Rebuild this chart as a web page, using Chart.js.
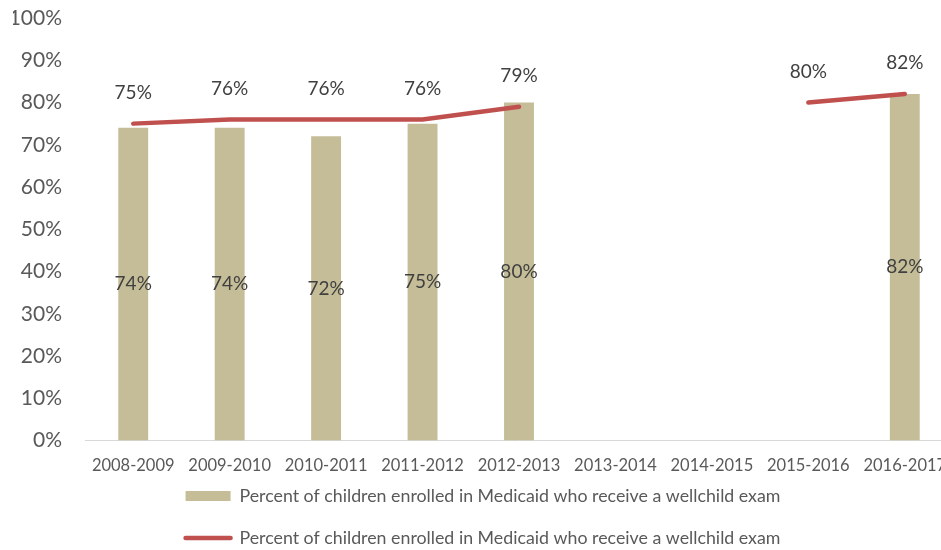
<!DOCTYPE html>
<html>
<head>
<meta charset="utf-8">
<script src="https://cdn.jsdelivr.net/npm/chart.js@4/dist/chart.umd.min.js"></script>
<style>
html,body{margin:0;padding:0;overflow:hidden;background:#fff;width:941px;height:550px;}
#wrap{width:955px;height:572px;margin-top:-15px;}
canvas{display:block;}
</style>
</head>
<body>
<div id="wrap"><canvas id="c" width="955" height="572"></canvas></div>
<script>
const categories = ["2008-2009","2009-2010","2010-2011","2011-2012","2012-2013","2013-2014","2014-2015","2015-2016","2016-2017"];
const barValues = [74,74,72,75,80,null,null,null,82];
const lineValues = [75,76,76,76,79,null,null,80,82];
const seriesName = "Percent of children enrolled in Medicaid who receive a wellchild exam";
const yTicks = [0,10,20,30,40,50,60,70,80,90,100];

const FONT = "Lato";
const barColor = "#C4BD97";
const lineColor = "#C0504D";

const labelPlugin = {
  id: 'valueLabels',
  afterLayout(chart) {
    // let x tick labels overflow their compact box
    chart.scales.x.bottom = chart.height;
  },
  afterDatasetsDraw(chart) {
    const ctx = chart.ctx;
    ctx.save();
    ctx.font = "19px " + FONT;
    ctx.fillStyle = "#404040";
    ctx.textAlign = "center";
    ctx.textBaseline = "middle";
    chart.data.datasets.forEach((ds, i) => {
      const meta = chart.getDatasetMeta(i);
      meta.data.forEach((el, j) => {
        const v = ds.data[j];
        if (v == null) return;
        let y;
        if (ds.type === 'bar') y = (el.y + el.base) / 2;
        else y = el.y - 31;
        ctx.fillText(v + "%", el.x, y);
      });
    });
    ctx.restore();
  }
};

new Chart(document.getElementById('c'), {
  data: {
    labels: categories,
    datasets: [
      {
        type: 'line',
        label: seriesName,
        data: lineValues,
        borderColor: lineColor,
        backgroundColor: lineColor,
        borderWidth: 4.5,
        borderCapStyle: 'round',
        pointRadius: 0,
        spanGaps: false,
        tension: 0,
        order: 0
      },
      {
        type: 'bar',
        label: seriesName,
        data: barValues,
        backgroundColor: barColor,
        borderWidth: 0,
        barPercentage: 0.62,
        categoryPercentage: 0.5,
        order: 1
      }
    ]
  },
  options: {
    responsive: false,
    animation: false,
    layout: { padding: { top: 33, right: 2, left: 13, bottom: 0 } },
    scales: {
      x: {
        afterFit(scale) { scale.height = 22.5; },
        grid: { display: false },
        border: { display: true, color: "#D9D9D9", width: 1 },
        ticks: { color: "#595959", font: { family: FONT, size: 16.5 }, padding: 7, maxRotation: 0, autoSkip: false }
      },
      y: {
        min: 0, max: 100,
        afterBuildTicks(scale) { scale.ticks = yTicks.map(v => ({ value: v })); },
        afterFit(scale) { scale.width = 72; },
        grid: { display: false },
        border: { display: false },
        ticks: { color: "#595959", font: { family: FONT, size: 21 }, padding: 15, callback: v => v + "%" }
      }
    },
    plugins: {
      tooltip: { enabled: false },
      legend: {
        position: 'bottom',
        labels: {
          color: "#595959",
          font: { family: FONT, size: 17.8 },
          usePointStyle: true,
          pointStyleWidth: 45,
          boxHeight: 10,
          padding: 24.2,
          generateLabels() {
            return [
              { text: seriesName, fillStyle: barColor, strokeStyle: barColor, lineWidth: 0, pointStyle: 'rect', hidden: false, datasetIndex: 1, fontColor: "#595959" },
              { text: seriesName, fillStyle: lineColor, strokeStyle: lineColor, lineWidth: 4.5, lineCap: 'round', pointStyle: 'line', hidden: false, datasetIndex: 0, fontColor: "#595959" }
            ];
          }
        }
      }
    }
  },
  plugins: [labelPlugin]
});
</script>
</body>
</html>
